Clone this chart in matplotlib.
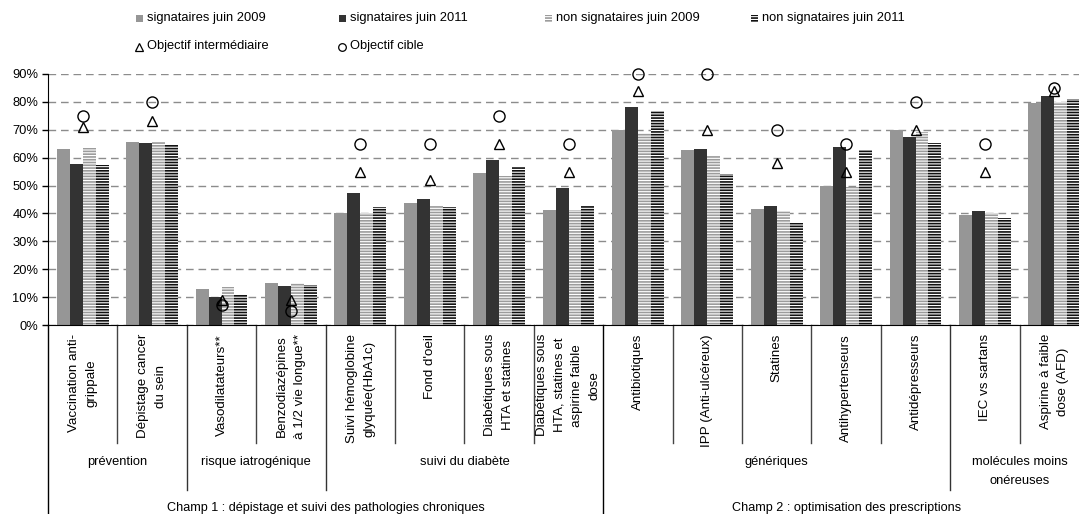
import matplotlib
matplotlib.use("Agg")
import matplotlib.pyplot as plt
import numpy as np
from matplotlib.patches import Rectangle
from matplotlib.lines import Line2D
from matplotlib.ticker import FuncFormatter

plt.rcParams['font.family'] = ['Liberation Sans', 'DejaVu Sans']
plt.rcParams['hatch.linewidth'] = 1.2

categories = [
    "Vaccination anti-\ngrippale",
    "Dépistage cancer\ndu sein",
    "Vasodilatateurs**",
    "Benzodiazépines\nà 1/2 vie longue**",
    "Suivi hémoglobine\nglyquée(HbA1c)",
    "Fond d'oeil",
    "Diabétiques sous\nHTA et statines",
    "Diabétiques sous\nHTA, statines et\naspirine faible\ndose",
    "Antibiotiques",
    "IPP (Anti-ulcéreux)",
    "Statines",
    "Antihypertenseurs",
    "Antidépresseurs",
    "IEC vs sartans",
    "Aspirine à faible\ndose (AFD)",
]

sig_2009 = [63.1, 65.6, 13.0, 15.2, 40.3, 43.6, 54.5, 41.4, 70.0, 62.7, 41.5, 50.0, 70.0, 39.6, 79.5]
sig_2011 = [57.7, 65.2, 10.2, 14.1, 47.2, 45.1, 59.1, 49.1, 78.1, 63.0, 42.5, 63.7, 67.4, 40.7, 82.0]
nonsig_2009 = [63.4, 65.6, 13.7, 15.1, 40.2, 42.9, 53.4, 41.2, 68.8, 60.8, 40.8, 49.4, 69.2, 40.2, 79.8]
nonsig_2011 = [57.3, 64.9, 11.2, 14.5, 42.3, 42.3, 56.6, 42.9, 76.7, 54.3, 36.6, 62.9, 65.1, 38.5, 81.0]
obj_intermediaire = [71, 73, 9, 9, 55, 52, 65, 55, 84, 70, 58, 55, 70, 55, 84]
obj_cible = [75, 80, 7, 5, 65, 65, 75, 65, 90, 90, 70, 65, 80, 65, 85]

groups = ["prévention", "risque iatrogénique", "suivi du diabète", "génériques",
          "molécules moins\nonéreuses"]
group_spans = [(0, 1), (2, 3), (4, 7), (8, 12), (13, 14)]
champs = ["Champ 1 : dépistage et suivi des pathologies chroniques",
          "Champ 2 : optimisation des prescriptions"]
champ_spans = [(0, 7), (8, 14)]

series_labels = ["signataires juin 2009", "signataires juin 2011",
                 "non signataires juin 2009", "non signataires juin 2011"]

FS = 9.3
W, H = 1079, 514
fig = plt.figure(figsize=(W / 100, H / 100), dpi=100)
ax_l, ax_r, ax_t, ax_b = 48, 1089, 74, 325
ax = fig.add_axes([ax_l / W, 1 - ax_b / H, (ax_r - ax_l) / W, (ax_b - ax_t) / H])

n = len(categories)
x = np.arange(n)
bw = 0.187
styles = [
    dict(color='#969696', linewidth=0),
    dict(color='#333333', linewidth=0),
    dict(facecolor='white', edgecolor='#9c9c9c', hatch='------', linewidth=0),
    dict(facecolor='white', edgecolor='#111111', hatch='------', linewidth=0),
]
data = [sig_2009, sig_2011, nonsig_2009, nonsig_2011]
for k, (vals, st) in enumerate(zip(data, styles)):
    ax.bar(x + (k - 1.5) * bw, np.array(vals) / 100, width=bw, zorder=2, **st)

ax.plot(x, np.array(obj_intermediaire) / 100, linestyle='none', marker='^', markersize=7.5,
        markerfacecolor='none', markeredgecolor='black', markeredgewidth=1.0, zorder=4,
        clip_on=False)
ax.plot(x, np.array(obj_cible) / 100, linestyle='none', marker='o', markersize=8,
        markerfacecolor='none', markeredgecolor='black', markeredgewidth=1.0, zorder=4,
        clip_on=False)

ax.set_xlim(-0.5, n - 0.5)
ax.set_ylim(0, 0.9)
ax.set_yticks(np.arange(0, 0.91, 0.1))
ax.yaxis.set_major_formatter(FuncFormatter(lambda v, p: f"{int(round(v * 100))}%"))
ax.set_xticks([])
ax.tick_params(axis='y', length=4, width=1, pad=3, labelsize=FS, colors='black')
for s in ['top', 'right']:
    ax.spines[s].set_visible(False)
ax.spines['left'].set_color('black')
ax.spines['bottom'].set_color('black')
ax.yaxis.grid(True, color='#8c8c8c', linewidth=1.0, linestyle=(0, (5.5, 3.5)))
ax.set_axisbelow(True)

trans = ax.get_xaxis_transform()
hpx = ax_b - ax_t
def yf(py):
    return -(py - ax_b) / hpx

group_bounds = [b[0] - 0.5 for b in group_spans]
champ_bounds = [c[0] - 0.5 for c in champ_spans]
for b in np.arange(-0.5, n, 1.0):
    if b in champ_bounds:
        yend, col = yf(514), 'black'
    elif b in group_bounds:
        yend, col = yf(490), '#333333'
    else:
        yend, col = yf(443), '#444444'
    ax.plot([b, b], [0, yend], transform=trans, color=col, linewidth=1, clip_on=False)

for i, lab in enumerate(categories):
    ax.text(i, yf(334), lab, transform=trans, rotation=90, ha='center', va='top',
            multialignment='center', fontsize=9.6, linespacing=1.62)

for g, (a, b) in zip(groups, group_spans):
    nl = g.count("\n")
    ax.text((a + b) / 2, yf(462 + 9.5 * nl), g, transform=trans, ha='center', va='center',
            multialignment='center', fontsize=FS, linespacing=1.85)

for c, (a, b) in zip(champs, champ_spans):
    ax.text((a + b) / 2, yf(508), c, transform=trans, ha='center', va='center', fontsize=9.1)

# legend (manual layout)
def fx(px):
    return px / W
def fy(py):
    return 1 - py / H

leg_pos = [(139, 18), (342, 18), (548, 18), (754, 18)]
sq = 7
for (px, py), st, lab in zip(leg_pos, styles, series_labels):
    st2 = dict(st)
    st2.pop('linewidth', None)
    r = Rectangle((fx(px - sq / 2), fy(py + sq / 2)), sq / W, sq / H, transform=fig.transFigure,
                  linewidth=0, **st2)
    fig.add_artist(r)
    fig.text(fx(px + 8), fy(py), lab, ha='left', va='center', fontsize=FS)

fig.add_artist(Line2D([fx(139)], [fy(47)], marker='^', markersize=5.5, markerfacecolor='none',
                      markeredgecolor='black', markeredgewidth=0.9, linestyle='none',
                      transform=fig.transFigure))
fig.text(fx(147), fy(46.5), "Objectif intermédiaire", ha='left', va='center', fontsize=FS)
fig.add_artist(Line2D([fx(342)], [fy(46.5)], marker='o', markersize=5.5, markerfacecolor='none',
                      markeredgecolor='black', markeredgewidth=0.9, linestyle='none',
                      transform=fig.transFigure))
fig.text(fx(350), fy(46.5), "Objectif cible", ha='left', va='center', fontsize=FS)

fig.savefig("out.png", dpi=100)
